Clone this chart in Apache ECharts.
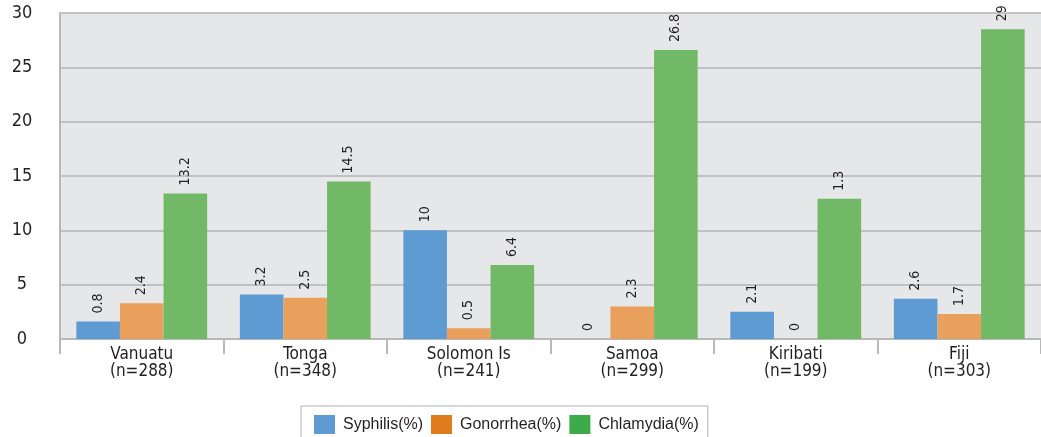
<!DOCTYPE html>
<html>
<head>
<meta charset="utf-8">
<script src="https://cdn.jsdelivr.net/npm/echarts@6/dist/echarts.min.js"></script>
<style>
  html, body { margin: 0; padding: 0; background: #fff; }
  #mychart { width: 1041px; height: 437px; }
</style>
</head>
<body>
<div id="mychart"></div>
<script>
// categories and values (bar heights, label texts as printed)
const categories = ['Vanuatu\n(n=288)', 'Tonga\n(n=348)', 'Solomon Is\n(n=241)', 'Samoa\n(n=299)', 'Kiribati\n(n=199)', 'Fiji\n(n=303)'];
const seriesNames = ['Syphilis(%)', 'Gonorrhea(%)', 'Chlamydia(%)'];
const syphilis = [1.6, 4.1, 10.0, 0, 2.5, 3.7];
const gonorrhea = [3.3, 3.8, 1.0, 3.0, 0, 2.3];
const chlamydia = [13.4, 14.5, 6.8, 26.6, 12.9, 28.5];
const syphilisLabels = ['0.8', '3.2', '10', '0', '2.1', '2.6'];
const gonorrheaLabels = ['2.4', '2.5', '0.5', '2.3', '0', '1.7'];
const chlamydiaLabels = ['13.2', '14.5', '6.4', '26.8', '1.3', '29'];
const yMin = 0, yMax = 30, yStep = 5;

const narrow = '"Liberation Sans Narrow", "DejaVu Sans Condensed", sans-serif';
const barColors = ['#5e9bd3', '#e8a05c', '#72b967'];
const legendColors = ['#5e9bd3', '#e07b1e', '#3dab4a'];

let mychart = echarts.init(document.getElementById('mychart'));

function makeSeries(i, values, labels) {
  return {
    name: seriesNames[i],
    type: 'bar',
    barGap: 0,
    barCategoryGap: '20%',
    itemStyle: { color: barColors[i] },
    label: {
      show: true,
      position: 'top',
      rotate: 90,
      align: 'left',
      verticalAlign: 'middle',
      distance: 8,
      fontFamily: narrow,
      fontSize: 14,
      color: '#231f20',
      formatter: function (p) { return labels[p.dataIndex]; }
    },
    data: values
  };
}

var option = {
  animation: false,
  grid: {
    left: 60, right: 0, top: 13, bottom: 98,
    show: true, backgroundColor: '#e6e7e8', borderWidth: 0
  },
  legend: {
    left: 301, top: 406,
    padding: [9, 9, 9, 13],
    itemWidth: 21, itemHeight: 19, itemGap: 8,
    borderColor: '#b0b0b0', borderWidth: 1,
    icon: 'rect',
    textStyle: { fontFamily: '"Liberation Sans", sans-serif', fontSize: 16, color: '#231f20', padding: [0, 0, 0, 3] },
    data: seriesNames.map(function (n, i) { return { name: n, itemStyle: { color: legendColors[i] } }; })
  },
  xAxis: {
    type: 'category',
    data: categories,
    axisLine: { lineStyle: { color: '#b8b8b8', width: 2 } },
    axisTick: { show: true, length: 15, lineStyle: { color: '#b8b8b8', width: 2 } },
    axisLabel: {
      margin: 7, fontFamily: narrow, fontSize: 17, lineHeight: 17, color: '#231f20'
    }
  },
  yAxis: {
    type: 'value',
    min: yMin, max: yMax, interval: yStep,
    axisLine: { show: true, lineStyle: { color: '#b8b8b8', width: 2 } },
    axisTick: { show: false },
    splitLine: { lineStyle: { color: '#b4b4b4', width: 1.5 } },
    axisLabel: { align: 'center', margin: 38, fontFamily: narrow, fontSize: 18, color: '#231f20' }
  },
  series: [
    makeSeries(0, syphilis, syphilisLabels),
    makeSeries(1, gonorrhea, gonorrheaLabels),
    makeSeries(2, chlamydia, chlamydiaLabels)
  ]
};
mychart.setOption(option);
</script>
</body>
</html>
